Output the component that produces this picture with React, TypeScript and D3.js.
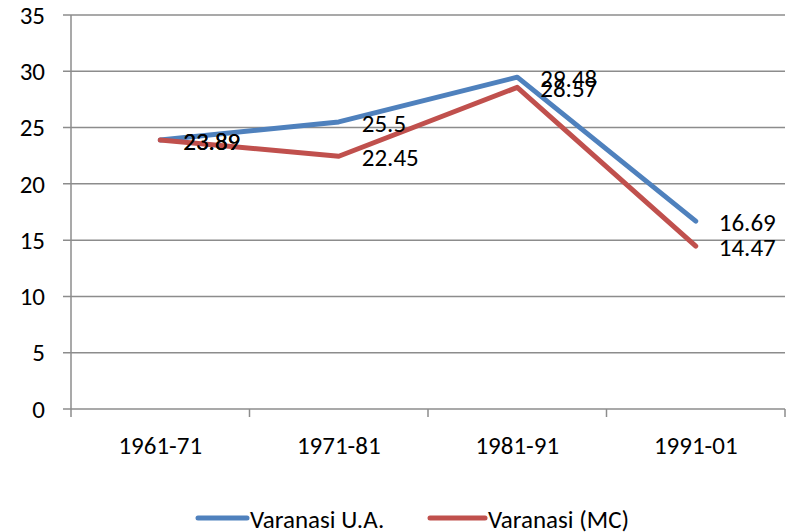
import React from 'react';
import * as d3 from 'd3';

const categories = ['1961-71', '1971-81', '1981-91', '1991-01'];
const seriesNames = ['Varanasi U.A.', 'Varanasi (MC)'];
const uaValues = [23.89, 25.5, 29.48, 16.69];
const mcValues = [23.89, 22.45, 28.57, 14.47];
const yTicks = [0, 5, 10, 15, 20, 25, 30, 35];

const colors = ['#4F81BD', '#C0504D'];
const font = 'Carlito, Calibri, Lato, sans-serif';
const fs = 25;

export default function App() {
  const width = 794;
  const height = 532;
  const margin = { top: 15, right: 9, bottom: 123, left: 71 };

  const x = d3.scaleBand()
    .domain(categories)
    .range([margin.left, width - margin.right]);

  const y = d3.scaleLinear()
    .domain([0, 35])
    .range([height - margin.bottom, margin.top]);

  const line = d3.line<number>()
    .x((_, i) => x(categories[i])! + x.bandwidth() / 2)
    .y((d) => y(d));

  const series = [uaValues, mcValues];
  const y0 = y(0);

  return (
    <svg width={width} height={height} style={{ position: 'absolute', left: 0, top: 0 }} fontFamily={font}>
      <rect width={width} height={height} fill="#fff" />
      {/* gridlines + y ticks */}
      {yTicks.map((t) => (
        <g key={t}>
          <line x1={margin.left - 8} x2={width - margin.right} y1={y(t)} y2={y(t)} stroke="#8c8c8c" strokeWidth={1.5} />
          <text x={45} y={y(t)} dy="0.35em" textAnchor="end" fontSize={fs} fill="#000">{t}</text>
        </g>
      ))}
      {/* y axis */}
      <line x1={margin.left} x2={margin.left} y1={margin.top} y2={y0 + 8} stroke="#8c8c8c" strokeWidth={1.5} />
      {/* x ticks at band edges */}
      {categories.map((c) => (
        <line key={c} x1={x(c)! + x.bandwidth()} x2={x(c)! + x.bandwidth()} y1={y0} y2={y0 + 8} stroke="#8c8c8c" strokeWidth={1.5} />
      ))}
      {categories.map((c) => (
        <text key={c} x={x(c)! + x.bandwidth() / 2} y={445} dy="0.35em" textAnchor="middle" fontSize={fs}>{c}</text>
      ))}
      {/* lines */}
      {series.map((s, i) => (
        <path key={i} d={line(s)!} fill="none" stroke={colors[i]} strokeWidth={5} strokeLinejoin="round" strokeLinecap="round" />
      ))}
      {/* data labels */}
      {series.map((s, i) =>
        s.map((v, j) => (
          <text key={`${i}-${j}`} x={x(categories[j])! + x.bandwidth() / 2 + 23} y={y(v) + 1} dy="0.35em" fontSize={fs}>{v}</text>
        ))
      )}
      {/* legend */}
      {[{ lx: 198, tx: 250 }, { lx: 430, tx: 488 }].map((p, i) => (
        <g key={i}>
          <line x1={p.lx} x2={p.lx + (i === 0 ? 49 : 55)} y1={518} y2={518} stroke={colors[i]} strokeWidth={5} strokeLinecap="round" />
          <text x={p.tx} y={519} dy="0.35em" fontSize={fs}>{seriesNames[i]}</text>
        </g>
      ))}
    </svg>
  );
}
